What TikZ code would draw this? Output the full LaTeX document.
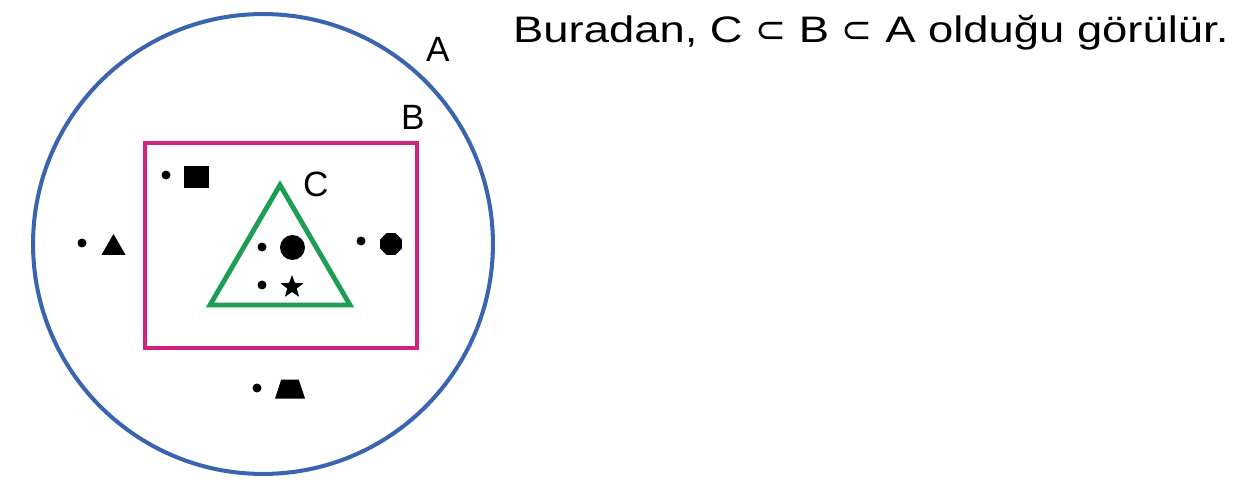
\documentclass[tikz,border=0pt]{standalone}
\usepackage{fontspec}
\setmainfont{Liberation Sans}
\newfontfamily\widefont[FakeStretch=1.23]{Liberation Sans}
\newfontfamily\symfont{DejaVu Sans}
\usetikzlibrary{shapes.geometric}
\definecolor{setBlue}{HTML}{3B64B0}
\definecolor{setPink}{HTML}{D4217F}
\definecolor{setGreen}{HTML}{1E9E55}

\begin{document}
\begin{tikzpicture}[x=0.02cm, y=-0.02cm,
  dotel/.style={circle, fill=black, inner sep=0pt, minimum size=0.18cm},
  blackel/.style={fill=black, inner sep=0pt},
  lbl/.style={anchor=base west, font=\fontsize{20}{24}\selectfont}]
\useasboundingbox (0,0) rectangle (1247,486);
\node[circle, draw=setBlue, line width=2.3pt, minimum size=9.2cm, inner sep=0pt] (A) at (263,244) {};
\node[rectangle, draw=setPink, line width=2.8pt, minimum width=5.44cm, minimum height=4.1cm, inner sep=0pt] (B) at (281,245.5) {};
\coordinate (c1) at (280,185);
\coordinate (c2) at (210,305);
\coordinate (c3) at (350,305);
\draw[setGreen, line width=2.8pt] (c1) -- (c2) -- (c3) -- cycle;
\node[lbl] (la) at (420,62) {A};
\node[lbl] (lb) at (395,130) {B};
\node[lbl] (lc) at (297,197) {C};
\node[dotel] (d1) at (166,175) {};
\node[blackel, rectangle, minimum width=0.5cm, minimum height=0.44cm] (e1) at (196,177) {};
\node[dotel] (d2) at (82,243) {};
\node[blackel, regular polygon, regular polygon sides=3, minimum size=0.56cm] (e2) at (113.5,248) {};
\node[dotel] (d3) at (262,247) {};
\node[blackel, circle, minimum size=0.5cm] (e3) at (292.5,247.5) {};
\node[dotel] (d4) at (262,285) {};
\node[blackel, star, star points=5, star point ratio=2.4, minimum size=0.48cm] (e4) at (292,287) {};
\node[dotel] (d5) at (361,241) {};
\node[blackel, regular polygon, regular polygon sides=8, minimum size=0.47cm] (e5) at (391,244) {};
\node[dotel] (d6) at (257,388) {};
\node[blackel, trapezium, inner sep=1pt, trapezium stretches=true, trapezium left angle=70, trapezium right angle=70, minimum width=0.6cm, minimum height=0.38cm] (e6) at (290,389) {};
\node[anchor=base west, font=\widefont\fontsize{21}{25}\selectfont] (note) at (507,43) {Buradan, C {\symfont ⊂} B {\symfont ⊂} A olduğu görülür.};
\end{tikzpicture}
\end{document}
